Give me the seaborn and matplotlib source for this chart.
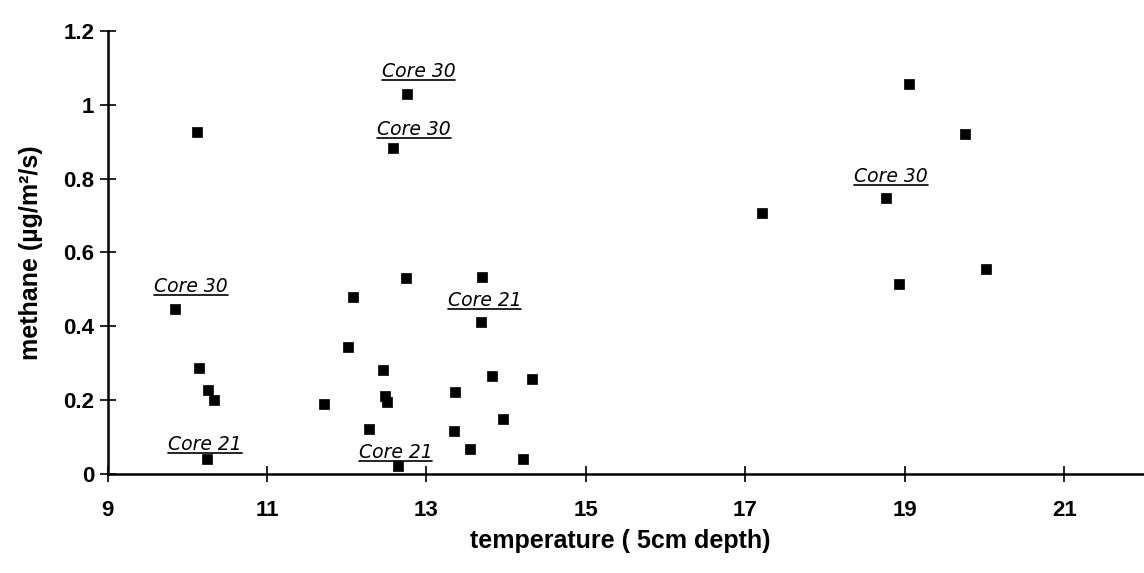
import numpy as np
import pandas as pd
import matplotlib
matplotlib.use("Agg")
import matplotlib.pyplot as plt
from matplotlib.lines import Line2D
import seaborn as sns

# values
temperature = [9.85, 10.12, 10.15, 10.26, 10.34, 10.25,
               11.72, 12.02, 12.08, 12.45, 12.48, 12.50, 12.28, 12.64,
               12.74, 12.75, 12.58,
               13.36, 13.35, 13.55, 13.68, 13.70, 13.82, 13.96, 14.21, 14.32,
               17.21, 18.77, 18.93, 19.05, 19.76, 20.02]
methane = [0.447, 0.927, 0.287, 0.228, 0.200, 0.040,
           0.190, 0.345, 0.480, 0.282, 0.210, 0.195, 0.122, 0.020,
           0.531, 1.030, 0.884,
           0.222, 0.117, 0.068, 0.412, 0.534, 0.266, 0.149, 0.040, 0.257,
           0.707, 0.748, 0.515, 1.057, 0.921, 0.556]

note_text = ["Core 30", "Core 30", "Core 30", "Core 21", "Core 21", "Core 21", "Core 30"]
note_x = [10.05, 12.90, 12.84, 13.73, 10.22, 12.61, 18.83]
note_y = [0.507, 1.090, 0.932, 0.470, 0.080, 0.057, 0.805]

x_ticks = [9, 11, 13, 15, 17, 19, 21]
y_ticks = [0, 0.2, 0.4, 0.6, 0.8, 1, 1.2]
y_tick_labels = ["0", "0.2", "0.4", "0.6", "0.8", "1", "1.2"]

df = pd.DataFrame({"temperature": temperature, "methane": methane})

sns.set_style("white")
plt.rcParams["font.family"] = ["Liberation Sans", "DejaVu Sans"]

fig = plt.figure(figsize=(11.44, 5.73), dpi=100)
ax = fig.add_axes([0.094, 0.173, 0.906, 0.773])

sns.scatterplot(data=df, x="temperature", y="methane", marker="s", color="black",
                edgecolor="black", s=60, linewidth=0.5, ax=ax, zorder=3)

notes = []
for t, x, y in zip(note_text, note_x, note_y):
    notes.append(ax.text(x, y, t, ha="center", va="center", fontsize=13.5,
                         fontstyle="italic", family="DejaVu Sans", color="black"))

ax.set_xlim(9, 22)
ax.set_ylim(0, 1.2)
ax.set_xticks(x_ticks)
ax.set_yticks(y_ticks)
ax.set_yticklabels(y_tick_labels)

for s in ["top", "right"]:
    ax.spines[s].set_visible(False)
for s in ["left", "bottom"]:
    ax.spines[s].set_linewidth(1.8)
    ax.spines[s].set_color("black")

ax.tick_params(axis="both", which="major", bottom=True, left=True,
               direction="inout", length=11, width=1.2, colors="black",
               labelsize=16, pad=4)
ax.tick_params(axis="x", pad=13)
for lab in ax.get_xticklabels() + ax.get_yticklabels():
    lab.set_fontweight("bold")

ax.set_xlabel("temperature ( 5cm depth)", fontsize=18, fontweight="bold", color="black")
ax.set_ylabel("methane (µg/m²/s)", fontsize=18, fontweight="bold", color="black")
ax.xaxis.set_label_coords(0.495, -0.125)
ax.yaxis.set_label_coords(-0.062, 0.5)

# underline the hand-written notes
fig.canvas.draw()
renderer = fig.canvas.get_renderer()
inv = fig.transFigure.inverted()
for t in notes:
    bb = t.get_window_extent(renderer)
    (x0, y0), (x1, _) = inv.transform([(bb.x0, bb.y0 + 1), (bb.x1, bb.y0 + 1)])
    fig.add_artist(Line2D([x0, x1], [y0, y0], color="black", lw=1.2))

fig.savefig("out.png", dpi=100)
